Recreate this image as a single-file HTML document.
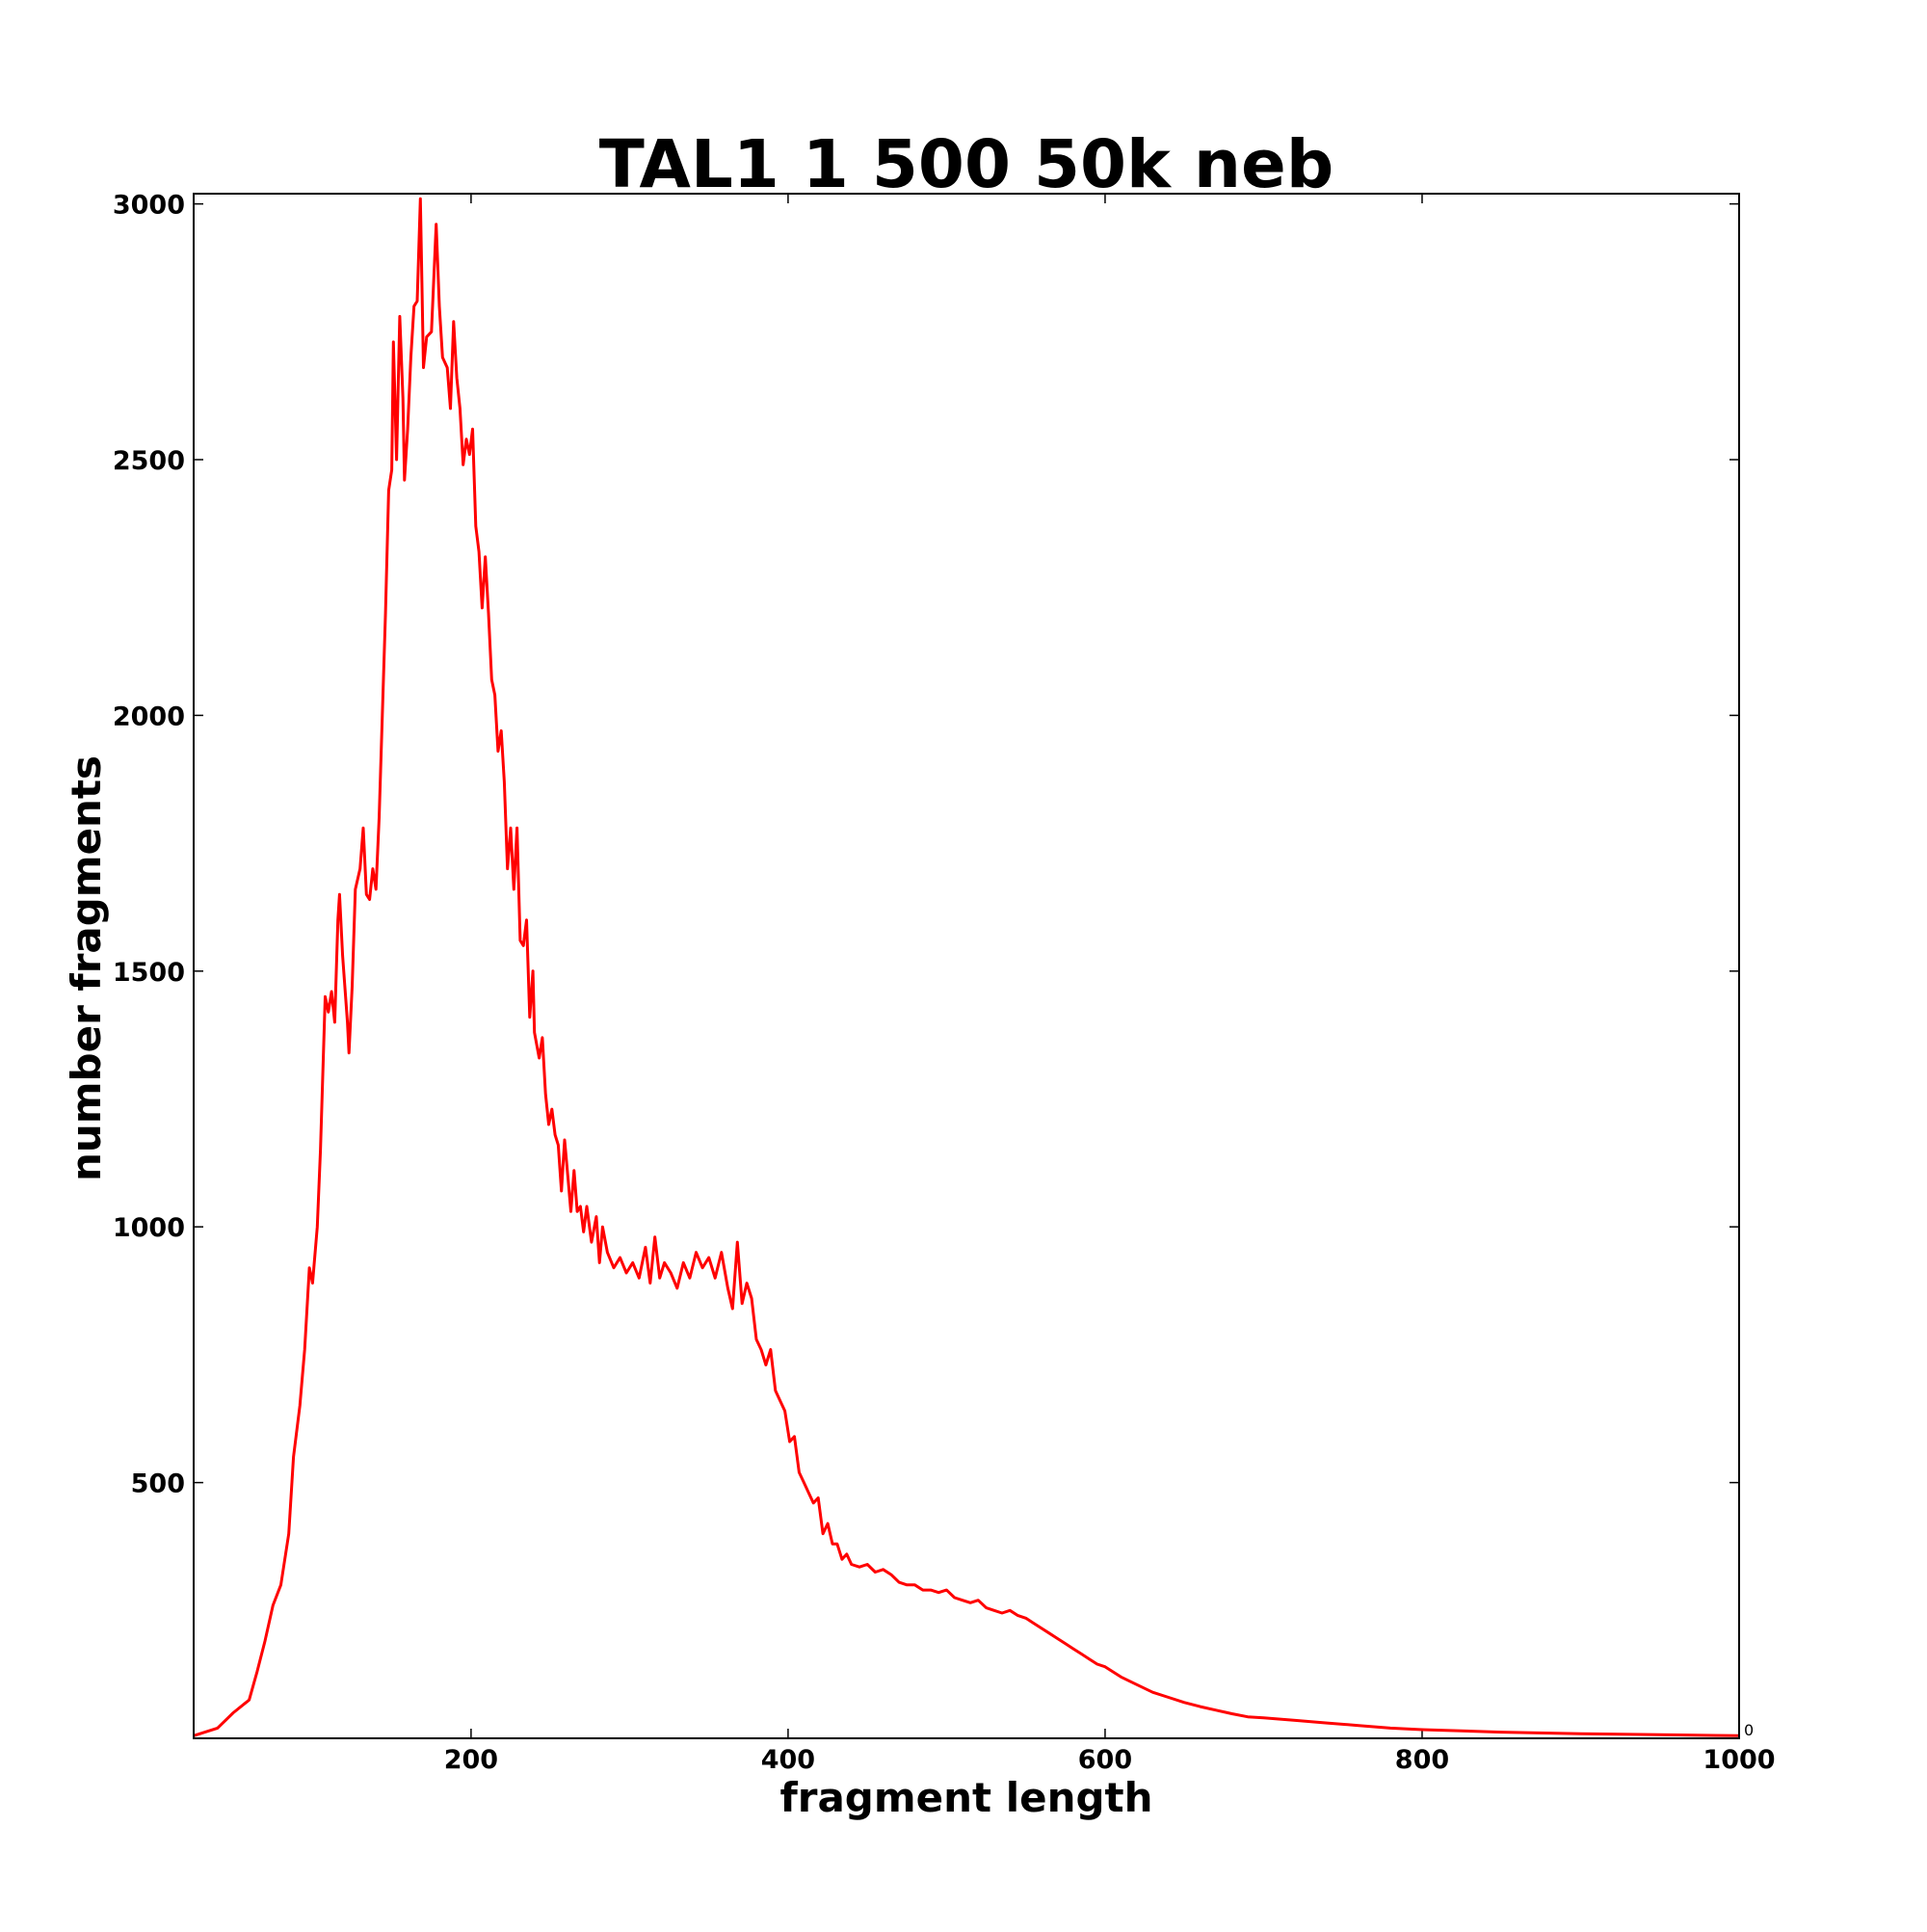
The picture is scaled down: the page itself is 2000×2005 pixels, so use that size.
<!DOCTYPE html>
<html><head><meta charset="utf-8"><style>
html,body{margin:0;padding:0;background:#fff;}
svg text{font-family:"DejaVu Sans","Liberation Sans",sans-serif;font-weight:bold;fill:#000;}
</style></head><body>
<svg id="chart" width="2000" height="2000" viewBox="0 0 2000 2000" xmlns="http://www.w3.org/2000/svg">
<rect width="2000" height="2000" fill="#fff"/>
<text x="1003" y="194" font-size="69" text-anchor="middle">TAL1 1 500 50k neb</text>
<g id="ticks"></g>
<path id="series" fill="none" stroke="#ff0000" stroke-width="3" stroke-linejoin="round"/>
<rect x="201" y="201" width="1604" height="1603" fill="none" stroke="#000" stroke-width="2"/>
<text x="1003" y="1880" font-size="42" text-anchor="middle">fragment length</text>
<text x="0" y="0" font-size="42" text-anchor="middle" transform="translate(104,1005) rotate(-90)">number fragments</text>
<text x="1810" y="1801" font-size="16" style="font-weight:normal">0</text>
</svg>
<script>
const xValues = [25,40,50,60,65,70,75,80,85,88,92,95,98,100,103,105,108,110,112,114,116,117,119,122,123,125,127,130,132,134,136,138,140,142,144,146,148,150,151,153,155,157,158,160,162,164,166,168,170,172,175,178,180,182,185,187,189,191,193,195,197,199,201,203,205,207,209,211,213,215,217,219,221,223,225,227,229,231,233,235,237,239,240,243,245,247,249,251,253,255,257,259,261,263,265,267,269,271,273,276,279,281,283,286,290,294,298,302,306,310,313,316,319,322,326,330,334,338,342,346,350,354,358,362,365,368,371,374,377,380,383,386,389,392,395,398,401,404,407,410,413,416,419,422,425,428,431,434,437,440,445,450,455,460,465,470,475,480,485,490,495,500,505,510,515,520,525,530,535,540,545,550,555,560,565,570,575,580,585,590,595,600,610,620,630,640,650,660,670,680,690,700,720,740,760,780,800,850,900,950,1000];
const yValues = [5,20,50,75,130,190,260,300,400,550,650,760,920,890,1000,1150,1450,1420,1460,1400,1600,1650,1530,1400,1340,1470,1660,1700,1780,1650,1640,1700,1660,1800,2000,2200,2440,2480,2730,2500,2780,2620,2460,2560,2700,2800,2810,3010,2680,2740,2750,2960,2800,2700,2680,2600,2770,2660,2600,2490,2540,2510,2560,2370,2320,2210,2310,2200,2070,2040,1930,1970,1870,1700,1780,1660,1780,1560,1550,1600,1410,1500,1380,1330,1370,1260,1200,1230,1180,1160,1070,1170,1100,1030,1110,1030,1040,990,1040,970,1020,930,1000,950,920,940,910,930,900,960,890,980,900,930,910,880,930,900,950,920,940,900,950,880,840,970,850,890,860,780,760,730,760,680,660,640,580,590,520,500,480,460,470,400,420,380,380,350,360,340,335,340,325,330,320,305,300,300,290,290,285,290,275,270,265,270,255,250,245,250,240,235,225,215,205,195,185,175,165,155,145,140,120,105,90,80,70,62,55,48,42,40,35,30,25,20,17,12,9,7,5];
const xTickValues = [200,400,600,800,1000];
const xTickLabels = ["200","400","600","800","1000"];
const yTickValues = [500,1000,1500,2000,2500,3000];
const yTickLabels = ["500","1000","1500","2000","2500","3000"];

const X0=201,X1=1805,Y0=1804,Y1=201, XMIN=25,XMAX=1000,YMIN=0,YMAX=3020;
function sx(v){return X0+(v-XMIN)/(XMAX-XMIN)*(X1-X0);}
function sy(v){return Y0-(v-YMIN)/(YMAX-YMIN)*(Y0-Y1);}
const NS="http://www.w3.org/2000/svg";
const g=document.getElementById('ticks');
function line(x1,y1,x2,y2){const l=document.createElementNS(NS,'line');l.setAttribute('x1',x1);l.setAttribute('y1',y1);l.setAttribute('x2',x2);l.setAttribute('y2',y2);l.setAttribute('stroke','#000');l.setAttribute('stroke-width','1.5');


g.appendChild(l);}
function label(x,y,txt,anchor,name){const t=document.createElementNS(NS,'text');t.setAttribute('x',x);t.setAttribute('y',y);t.setAttribute('font-size','27');t.setAttribute('text-anchor',anchor);t.textContent=txt;


g.appendChild(t);}
xTickValues.forEach((v,i)=>{const x=sx(v);line(x,Y0,x,Y0-10);line(x,Y1,x,Y1+10);label(x,1835,xTickLabels[i],'middle','x-tick-label');});
yTickValues.forEach((v,i)=>{const y=sy(v);line(X0,y,X0+10,y);line(X1,y,X1-10,y);label(192,y+10,yTickLabels[i],'end','y-tick-label');});
let d='';
xValues.forEach((v,i)=>{d+=(i?'L':'M')+sx(v).toFixed(1)+' '+sy(yValues[i]).toFixed(1);});
document.getElementById('series').setAttribute('d',d);
</script>
</body></html>
